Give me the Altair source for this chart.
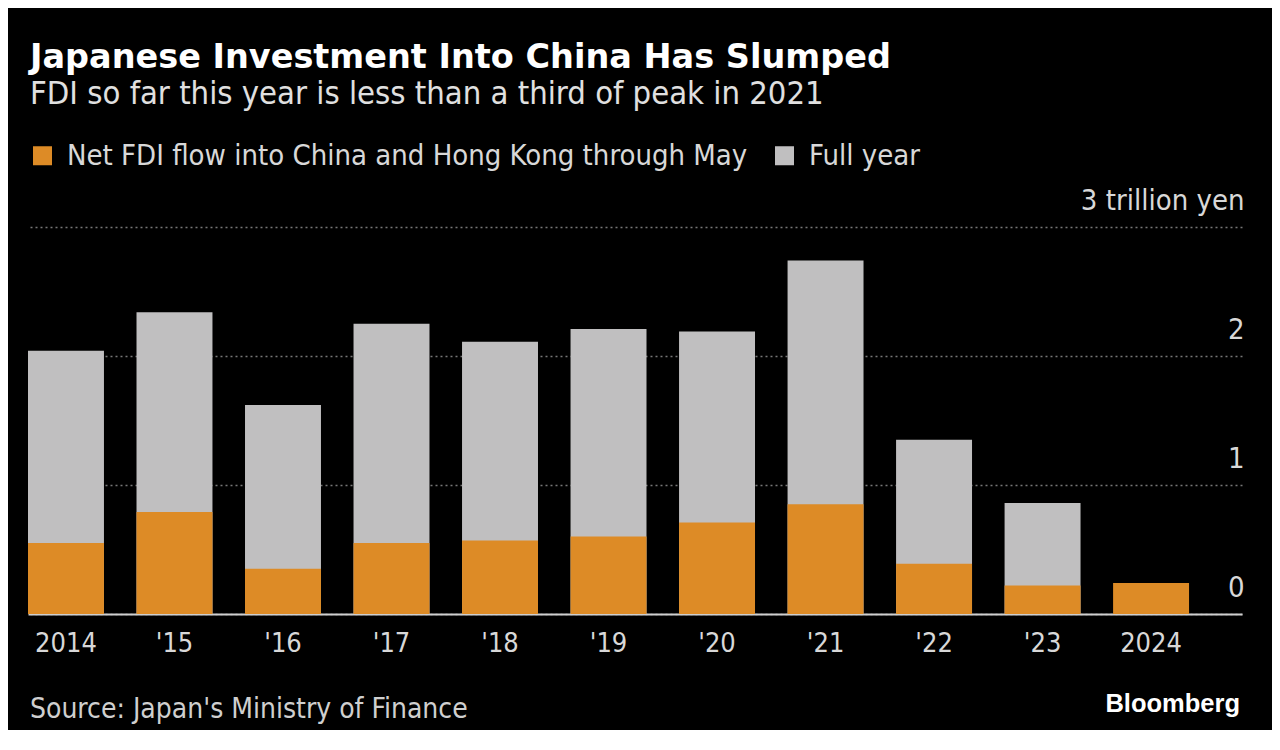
import altair as alt
import pandas as pd

years = ["2014", "'15", "'16", "'17", "'18", "'19", "'20", "'21", "'22", "'23", "2024"]
full_year = [2.04, 2.34, 1.62, 2.25, 2.11, 2.21, 2.19, 2.74, 1.35, 0.86, None]
through_may = [0.55, 0.79, 0.35, 0.55, 0.57, 0.60, 0.71, 0.85, 0.39, 0.22, 0.24]
series_names = ["Net FDI flow into China and Hong Kong through May", "Full year"]
series_colors = ["#DD8B26", "#C0BFC0"]
y_ticks = [0, 1, 2, 3]

FONT = "DejaVu Sans Condensed, DejaVu Sans, sans-serif"

rows = []
for i, yr in enumerate(years):
    if full_year[i] is not None:
        rows.append({"year": yr, "series": series_names[1], "value": full_year[i], "z": 0})
for i, yr in enumerate(years):
    rows.append({"year": yr, "series": series_names[0], "value": through_may[i], "z": 1})
df = pd.DataFrame(rows)

W, H = 1214, 387

bars = alt.Chart(df).mark_bar().encode(
    x=alt.X("year:N", sort=years, title=None,
            scale=alt.Scale(paddingInner=0.3, paddingOuter=0.244, align=0),
            axis=alt.Axis(labelAngle=0, labelFontSize=27, labelColor="#D8D8D8", labelFont=FONT,
                          labelPadding=16, ticks=False, domainColor="#CFCFCF", domainWidth=2,
                          grid=False)),
    y=alt.Y("value:Q", stack=None, title=None,
            scale=alt.Scale(domain=[0, 3], nice=False),
            axis=alt.Axis(orient="right", values=y_ticks, tickSize=0, ticks=False, domain=False,
                          labelAlign="right", labelBaseline="alphabetic", labelOffset=-18,
                          labelPadding=2, labelFontSize=29, labelColor="#D8D8D8", labelFont=FONT,
                          labelExpr="datum.value == 3 ? '3 trillion yen' : datum.label",
                          grid=True, gridColor="#777777", gridDash=[2, 3], gridWidth=1.5)),
    color=alt.Color("series:N", scale=alt.Scale(domain=series_names, range=series_colors),
                    legend=alt.Legend(orient="none", legendX=0, legendY=-86, direction="horizontal",
                                      title=None, symbolType="square", symbolSize=361,
                                      symbolStrokeWidth=0, labelFontSize=29, labelColor="#D8D8D8",
                                      labelFont=FONT, labelOffset=10, columnPadding=22,
                                      labelLimit=1000)),
    order=alt.Order("z:Q"),
)

footer_df = pd.DataFrame({"t": ["Source: Japan's Ministry of Finance"]})
source = alt.Chart(footer_df).mark_text(
    align="left", baseline="alphabetic", fontSize=28, font=FONT, color="#CFCFCF"
).encode(text="t:N", x=alt.value(2), y=alt.value(H + 104))

logo_df = pd.DataFrame({"t": ["Bloomberg"]})
logo = alt.Chart(logo_df).mark_text(
    align="right", baseline="alphabetic", fontSize=25.5, font="Liberation Sans", fontWeight="bold",
    color="#FFFFFF"
).encode(text="t:N", x=alt.value(W - 2), y=alt.value(H + 98))

chart = alt.layer(bars, source, logo).properties(
    width=W, height=H,
    padding={"left": 20, "top": 219, "right": 30, "bottom": 116},
    autosize=alt.AutoSizeParams(type="none"),
    background="#000000",
    title=alt.TitleParams(
        text="Japanese Investment Into China Has Slumped",
        subtitle="FDI so far this year is less than a third of peak in 2021",
        anchor="start", frame="group", orient="top", offset=30, dx=2,
        font="DejaVu Sans", fontWeight="bold", fontSize=33.5, color="#FFFFFF",
        subtitleFont=FONT, subtitleFontSize=32.5, subtitleColor="#E0E0E0", subtitlePadding=2,
    ),
).configure_view(stroke=None)

chart.save("out.html", embed_options={"renderer": "svg", "actions": False})
